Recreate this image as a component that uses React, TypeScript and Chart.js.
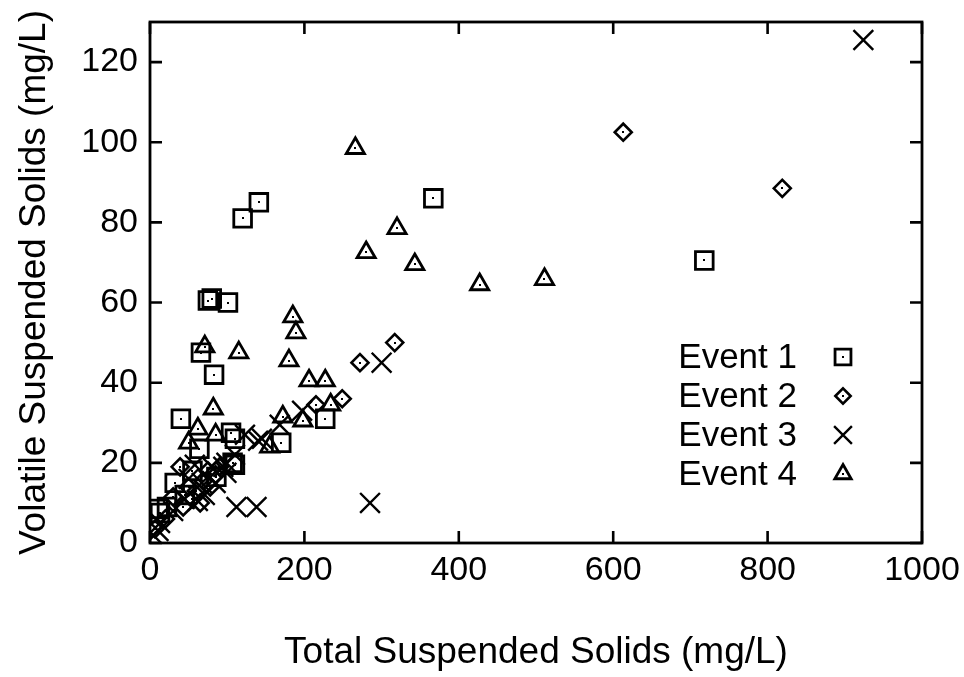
import React, { useEffect, useRef } from 'react';
import { Chart, registerables } from 'chart.js';
import { drawPoint } from 'chart.js/helpers';

Chart.register(...registerables);

// Tick values
const xTickValues = [0, 200, 400, 600, 800, 1000];
const yTickValues = [0, 20, 40, 60, 80, 100, 120];

// Series names
const seriesNames = ['Event 1', 'Event 2', 'Event 3', 'Event 4'];

// Event 1 (squares): [TSS, VSS]
const event1 = [
  [75, 60.5], [80, 61], [101, 60], [120, 81], [141, 85], [367, 86], [718, 70.5],
  [66, 47.5], [83, 42], [40, 31], [105, 27.5], [110, 26], [64, 23.5], [107, 20],
  [110, 19.5], [86, 16.5], [170, 25], [227, 31], [32, 15], [22, 9], [13, 7.5],
  [11, 8.5], [45, 12], [55, 18],
];

// Event 2 (diamonds)
const event2 = [
  [613, 102.5], [819, 88.5], [317, 50], [272, 45], [249, 36], [215, 34.5], [39, 19],
  [30, 11.5], [69, 15.5], [78, 14], [60, 13], [75, 18], [50, 14], [85, 17], [6.5, 3.5],
  [20, 6], [43, 9], [90, 19], [55, 11], [65, 10],
];

// Event 3 (crosses)
const event3 = [
  [924, 125.5], [300, 45], [197, 33], [168, 29.5], [145, 26], [123, 27], [140, 25.5],
  [112, 9], [138, 9], [285, 10], [99, 20], [99, 17.5], [95, 19], [58, 19.5], [67, 15],
  [71, 12], [62, 10.5], [50, 16], [13, 5], [4, 2], [11, 3], [30, 8], [80, 19], [85, 15],
  [45, 11], [110, 22],
];

// Event 4 (triangles)
const event4 = [
  [266, 98.5], [320, 78.5], [280, 72.5], [343, 69.5], [427, 64.5], [511, 65.8],
  [185, 56.5], [189, 52.5], [71, 49], [115, 47.5], [180, 45.5], [206, 40.5], [227, 40.5],
  [82, 33.5], [234, 34.5], [172, 31.5], [198, 30.5], [62, 28.5], [85, 27], [50, 25],
  [155, 24],
];

const FONT = '"Liberation Sans", Arial, Helvetica, sans-serif';

const styles = [
  { pointStyle: 'rect', radius: 12.5, borderWidth: 2.8, dot: true },
  { pointStyle: 'rectRot', radius: 8.5, borderWidth: 2.6, dot: true },
  { pointStyle: 'crossRot', radius: 14, borderWidth: 2.4, dot: false },
  { pointStyle: 'triangle', radius: 10.5, borderWidth: 2.8, dot: true },
];

const framePlugin = {
  id: 'frameTicks',
  afterDraw(chart: any) {
    const { ctx, chartArea } = chart;
    const { left, right, top, bottom } = chartArea;
    const xs = chart.scales.x;
    const ys = chart.scales.y;
    const tl = 12;
    ctx.save();
    ctx.strokeStyle = '#000';
    ctx.lineWidth = 2.8;
    ctx.strokeRect(left, top, right - left, bottom - top);
    ctx.lineWidth = 2.6;
    ctx.beginPath();
    xs.ticks.forEach((t: any) => {
      const px = xs.getPixelForValue(t.value);
      ctx.moveTo(px, bottom);
      ctx.lineTo(px, bottom - tl);
      ctx.moveTo(px, top);
      ctx.lineTo(px, top + tl);
    });
    ys.ticks.forEach((t: any) => {
      const py = ys.getPixelForValue(t.value);
      ctx.moveTo(left, py);
      ctx.lineTo(left + tl, py);
      ctx.moveTo(right, py);
      ctx.lineTo(right - tl, py);
    });
    ctx.stroke();
    ctx.restore();
  },
};

const dotPlugin = {
  id: 'centerDots',
  afterDatasetsDraw(chart: any) {
    const { ctx } = chart;
    ctx.save();
    ctx.fillStyle = '#000';
    chart.data.datasets.forEach((ds: any, i: number) => {
      if (!styles[i].dot) return;
      const meta = chart.getDatasetMeta(i);
      meta.data.forEach((el: any) => {
        ctx.fillRect(Math.round(el.x) - 1, Math.round(el.y) - 1, 2, 2);
      });
    });
    ctx.restore();
  },
};

const legendPlugin = {
  id: 'insideLegend',
  afterDraw(chart: any) {
    const { ctx, chartArea } = chart;
    const textRight = chartArea.right - 125;
    const markerX = chartArea.right - 79;
    const firstY = chartArea.bottom - 186;
    const step = 39;
    ctx.save();
    ctx.font = `35px ${FONT}`;
    ctx.textAlign = 'right';
    ctx.textBaseline = 'middle';
    chart.data.datasets.forEach((ds: any, i: number) => {
      const y = firstY + i * step;
      ctx.fillStyle = '#000';
      ctx.fillText(ds.label, textRight, y + 1);
      ctx.strokeStyle = '#000';
      ctx.fillStyle = 'rgba(0,0,0,0)';
      ctx.lineWidth = styles[i].borderWidth;
      drawPoint(ctx, { pointStyle: styles[i].pointStyle as any, radius: styles[i].radius * 0.9, rotation: 0, borderWidth: styles[i].borderWidth } as any, markerX, y);
      ctx.fillStyle = '#000';
      if (styles[i].dot) ctx.fillRect(markerX - 1, y - 1, 2, 2);
    });
    ctx.restore();
  },
};

export default function App() {
  const ref = useRef<HTMLCanvasElement | null>(null);

  useEffect(() => {
    if (!ref.current) return;
    Chart.defaults.font.family = FONT;
    Chart.defaults.color = '#000';
    const all = [event1, event2, event3, event4];
    const chart = new Chart(ref.current, {
      type: 'scatter',
      data: {
        datasets: all.map((arr, i) => ({
          label: seriesNames[i],
          data: arr.map(([x, y]) => ({ x, y })),
          pointStyle: styles[i].pointStyle as any,
          pointRadius: styles[i].radius,
          pointHoverRadius: styles[i].radius,
          pointBorderWidth: styles[i].borderWidth,
          pointBorderColor: '#000',
          pointBackgroundColor: 'rgba(0,0,0,0)',
          borderColor: '#000',
          backgroundColor: 'rgba(0,0,0,0)',
          showLine: false,
        })),
      },
      options: {
        responsive: false,
        animation: false,
        events: [],
        layout: { padding: { top: 22, right: 42, left: 0, bottom: 0 } },
        plugins: {
          legend: { display: false },
          tooltip: { enabled: false },
        },
        scales: {
          x: {
            type: 'linear',
            min: 0,
            max: 1000,
            afterBuildTicks: (scale: any) => {
              scale.ticks = xTickValues.map((v) => ({ value: v }));
            },
            afterFit: (scale: any) => {
              scale.height = 134;
              scale.paddingLeft = 0;
              scale.paddingRight = 0;
            },
            grid: { display: false, drawTicks: false },
            border: { display: false },
            ticks: {
              font: { size: 34, family: FONT },
              color: '#000',
              padding: 7,
              maxRotation: 0,
              callback: (v: any) => String(v),
            },
            title: {
              display: true,
              text: 'Total Suspended Solids (mg/L)',
              font: { size: 37, family: FONT },
              color: '#000',
              padding: { bottom: 2 },
            },
          },
          y: {
            type: 'linear',
            min: 0,
            max: 130,
            afterBuildTicks: (scale: any) => {
              scale.ticks = yTickValues.map((v) => ({ value: v }));
            },
            afterFit: (scale: any) => {
              scale.width = 150;
              scale.paddingTop = 0;
              scale.paddingBottom = 0;
            },
            grid: { display: false, drawTicks: false },
            border: { display: false },
            ticks: {
              font: { size: 34, family: FONT },
              color: '#000',
              padding: 12,
              callback: (v: any) => String(v),
            },
            title: {
              display: true,
              text: 'Volatile Suspended Solids (mg/L)',
              font: { size: 37, family: FONT },
              color: '#000',
              padding: { top: 13 },
            },
          },
        },
      },
      plugins: [framePlugin, dotPlugin, legendPlugin],
    });
    return () => chart.destroy();
  }, []);

  return (
    <div style={{ position: 'absolute', left: 0, top: 0, width: 964, height: 677, background: '#fff' }}>
      <canvas ref={ref} width={964} height={677} />
    </div>
  );
}
